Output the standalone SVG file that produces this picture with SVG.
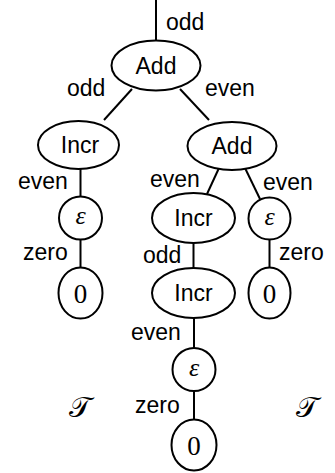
<svg xmlns="http://www.w3.org/2000/svg" width="335" height="473" viewBox="0 0 335 473">
<style>
.n{fill:#fff;stroke:#000;stroke-width:2}
.e{stroke:#000;stroke-width:2;fill:none}
.t{font-family:"Liberation Sans",Arial,sans-serif;font-size:23px;fill:#000}
.c{text-anchor:middle}
.m{font-family:"Liberation Serif","Times New Roman",serif;fill:#000;text-anchor:middle}
.eps{font-size:26px;font-style:italic}
.z{font-size:27px}
.T{font-family:"DejaVu Serif","Liberation Serif",serif;font-size:29px;fill:#000;text-anchor:middle}
</style>
<g id="connectors">
<line class="e" x1="156" y1="0" x2="156" y2="40"/>
<line class="e" x1="132" y1="89" x2="104" y2="120"/>
<line class="e" x1="180" y1="89" x2="209" y2="120"/>
<line class="e" x1="80.5" y1="169" x2="80.5" y2="197"/>
<line class="e" x1="80.5" y1="239" x2="80.5" y2="268"/>
<line class="e" x1="219" y1="168" x2="207" y2="194"/>
<line class="e" x1="245" y1="168" x2="260" y2="199"/>
<line class="e" x1="193.5" y1="243" x2="193.5" y2="268"/>
<line class="e" x1="269.5" y1="239" x2="269.5" y2="268"/>
<line class="e" x1="194" y1="318" x2="194" y2="348"/>
<line class="e" x1="194" y1="391" x2="194" y2="419"/>
</g>
<g id="labels">
<text class="t" x="166" y="30">odd</text>
<text class="t" x="67" y="96">odd</text>
<text class="t" x="205" y="96">even</text>
<text class="t" x="18" y="189">even</text>
<text class="t" x="150" y="187">even</text>
<text class="t" x="263" y="190">even</text>
<text class="t" x="23" y="260">zero</text>
<text class="t" x="143" y="263">odd</text>
<text class="t" x="279" y="260">zero</text>
<text class="t" x="131" y="340">even</text>
<text class="t" x="135" y="413">zero</text>
</g>
<g id="root-add"><ellipse class="n" cx="156" cy="65.5" rx="44.5" ry="25"/><text class="t c" x="156" y="74">Add</text></g>
<g id="incr-left"><ellipse class="n" cx="78.5" cy="145" rx="40.5" ry="24"/><text class="t c" x="80" y="153">Incr</text></g>
<g id="add-right"><ellipse class="n" cx="232" cy="146" rx="44.5" ry="24"/><text class="t c" x="232" y="154">Add</text></g>
<g id="eps-left"><circle class="n" cx="80.5" cy="218" r="21.5"/><text class="m eps" x="80.5" y="224">ε</text></g>
<g id="zero-left"><ellipse class="n" cx="80.5" cy="293" rx="22" ry="25.5"/><text class="m z" x="80.5" y="303">0</text></g>
<g id="incr-mid"><ellipse class="n" cx="193.5" cy="218" rx="41.5" ry="25"/><text class="t c" x="193.5" y="226">Incr</text></g>
<g id="eps-right"><circle class="n" cx="269.5" cy="218.5" r="21"/><text class="m eps" x="269.5" y="224.5">ε</text></g>
<g id="incr-mid2"><ellipse class="n" cx="193.5" cy="293" rx="41.5" ry="25"/><text class="t c" x="193.5" y="301">Incr</text></g>
<g id="zero-right"><ellipse class="n" cx="269.5" cy="293" rx="21" ry="25.5"/><text class="m z" x="269.5" y="303">0</text></g>
<g id="eps-bottom"><circle class="n" cx="194" cy="369.5" r="21.5"/><text class="m eps" x="194" y="375.5">ε</text></g>
<g id="zero-bottom"><ellipse class="n" cx="194" cy="445" rx="22.5" ry="25.5"/><text class="m z" x="194" y="455">0</text></g>
<text class="T" x="80" y="417">𝒯</text>
<text class="T" x="307" y="417">𝒯</text>
</svg>
